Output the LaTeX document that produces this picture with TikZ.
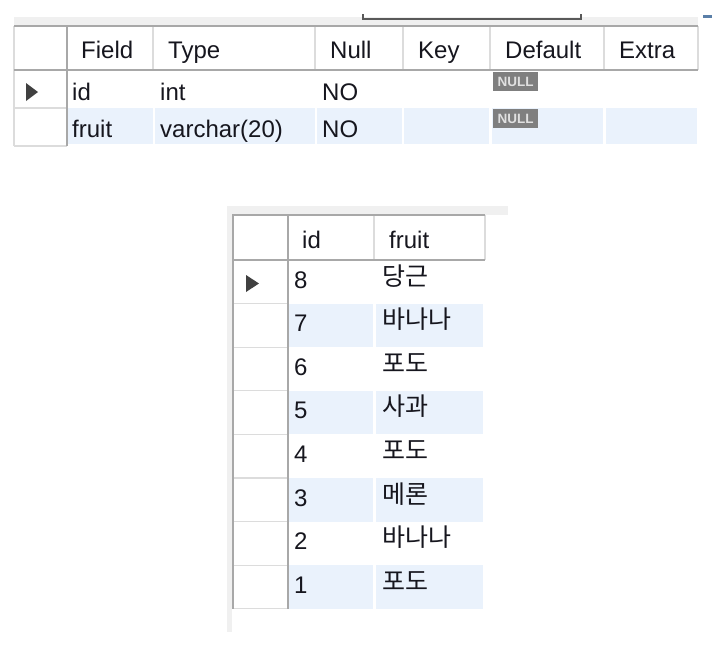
\documentclass[tikz,border=0pt]{standalone}
\usepackage{fontspec}
\setmainfont{Liberation Sans}
\newfontfamily\kofont{Noto Sans CJK KR}
\definecolor{txt}{HTML}{16161E}
\definecolor{rowblue}{HTML}{EAF2FC}
\definecolor{band}{HTML}{F0F0F0}
\definecolor{gridl}{HTML}{DCDCDC}
\definecolor{border}{HTML}{A8A8A8}
\definecolor{nullbg}{HTML}{7F7F7F}
\definecolor{nulltx}{HTML}{E0E0E0}
\definecolor{arrowc}{HTML}{404040}
\definecolor{markblue}{HTML}{5A7FA8}
\begin{document}
\begin{tikzpicture}[x=1pt,y=-1pt,
  cell/.style={anchor=base west, inner sep=0pt, text=txt, font=\fontsize{24}{28}\selectfont},
  kcell/.style={anchor=base west, inner sep=0pt, text=txt, font=\kofont\fontsize{25}{29}\selectfont},
  nullbadge/.style={fill=nullbg, draw=none},
  nulltext/.style={inner sep=0pt, text=nulltx, font=\bfseries\fontsize{13.5}{15}\selectfont},
  thin grid/.style={draw=gridl, line width=1.2pt},
  thick border/.style={draw=border, line width=2pt},
  rowmark/.style={fill=arrowc}]
\useasboundingbox[fill=white] (0,0) rectangle (712,645);

% ===== top table =====
\fill[band] (14,17) rectangle (698,26);
\draw[gray!70!black, line width=1.5pt] (363,14) -- (363,19) -- (581,19) -- (581,14);
\fill[markblue] (703,15) rectangle (712,18);
% alternating row fill
\foreach \a/\b in {67/153,155/315,317/402,404/489,492/603,606/697}
  \fill[rowblue] (\a,108) rectangle (\b,144);
% header separators
\foreach \xx in {153,315,403,490,604,698}
  \draw[thin grid] (\xx,26) -- (\xx,70);
\draw[thin grid] (14,26) -- (14,146);
\draw[thin grid] (14,108) -- (67,108);
\draw[thin grid] (14,146) -- (67,146);
\draw[thick border] (14,26) -- (698,26);
\draw[thick border] (14,70) -- (698,70);
\draw[thick border] (67,26) -- (67,146);

\node[cell] (hField) at (81,58) {Field};
\node[cell] (hType) at (168,58) {Type};
\node[cell] (hNull) at (330,58) {Null};
\node[cell] (hKey) at (418,58) {Key};
\node[cell] (hDefault) at (505,58) {Default};
\node[cell] (hExtra) at (619,58) {Extra};

\node[cell] (r1f) at (72,100) {id};
\node[cell] (r1t) at (160,100) {int};
\node[cell] (r1n) at (322,100) {NO};
\node[cell] (r2f) at (72,137) {fruit};
\node[cell] (r2t) at (160,137) {varchar(20)};
\node[cell] (r2n) at (322,137) {NO};

\fill[nullbadge] (493,72) rectangle (538,91);
\node[nulltext] (null1) at (515.5,81.5) {NULL};
\fill[nullbadge] (493,109) rectangle (538,128);
\node[nulltext] (null2) at (515.5,118.5) {NULL};

\fill[rowmark] (26,83) -- (26,101) -- (38,92) -- cycle;

% ===== bottom table =====
\fill[band] (227,206) rectangle (508,215);
\fill[band] (227,215) rectangle (232,632);
\foreach \i in {1,3,5,7} {
  \fill[rowblue] (289,{260+43.6*\i}) rectangle (373,{260+43.6*(\i+1)});
  \fill[rowblue] (376,{260+43.6*\i}) rectangle (483,{260+43.6*(\i+1)});
}
\draw[thin grid] (374,215) -- (374,260);
\draw[thin grid] (485,215) -- (485,260);
\foreach \i in {1,...,8}
  \draw[thin grid] (232,{260+43.6*\i}) -- (288,{260+43.6*\i});
\draw[thick border] (232,215) -- (485,215);
\draw[thick border] (232,260) -- (485,260);
\draw[thick border] (233,215) -- (233,609);
\draw[thick border] (288,215) -- (288,609);

\node[cell] (hid) at (302,248) {id};
\node[cell] (hfruit) at (389,248) {fruit};

\foreach \i/\n/\f in {0/8/당근,1/7/바나나,2/6/포도,3/5/사과,4/4/포도,5/3/메론,6/2/바나나,7/1/포도} {
  \node[cell] (id\n) at (294,{260+43.6*\i+28}) {\n};
  \node[kcell] (fr\n) at (382,{260+43.6*\i+25}) {\f};
}

\fill[rowmark] (246,275) -- (246,292) -- (259,283.5) -- cycle;
\end{tikzpicture}
\end{document}
